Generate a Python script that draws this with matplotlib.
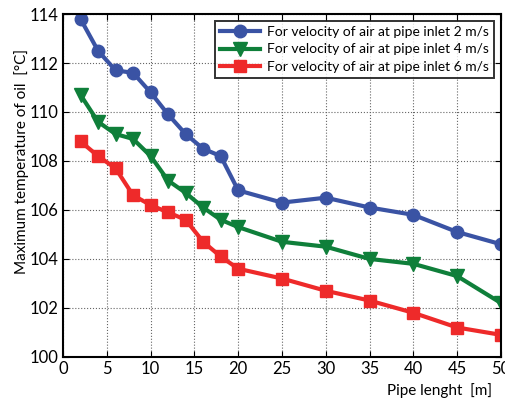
import numpy as np
import matplotlib.pyplot as plt

plt.rcParams['font.family'] = ['Lato', 'DejaVu Sans']

pipe_length = [2, 4, 6, 8, 10, 12, 14, 16, 18, 20, 25, 30, 35, 40, 45, 50]
temp_2ms = [113.8, 112.5, 111.7, 111.6, 110.8, 109.9, 109.1, 108.5, 108.2, 106.8,
            106.3, 106.5, 106.1, 105.8, 105.1, 104.6]
temp_4ms = [110.7, 109.6, 109.1, 108.9, 108.2, 107.2, 106.7, 106.1, 105.6, 105.3,
            104.7, 104.5, 104.0, 103.8, 103.3, 102.2]
temp_6ms = [108.8, 108.2, 107.7, 106.6, 106.2, 105.9, 105.6, 104.7, 104.1, 103.6,
            103.2, 102.7, 102.3, 101.8, 101.2, 100.9]
labels = ['For velocity of air at pipe inlet 2 m/s',
          'For velocity of air at pipe inlet 4 m/s',
          'For velocity of air at pipe inlet 6 m/s']

fig = plt.figure(figsize=(5.06, 4.01), dpi=100)
ax = fig.add_axes([0.1245, 0.11, 0.8655, 0.855])

ax.plot(pipe_length, temp_2ms, color='#3a53a4', lw=3, marker='o', ms=9, label=labels[0])
ax.plot(pipe_length, temp_4ms, color='#0f7f3a', lw=3, marker='v', ms=10, label=labels[1])
ax.plot(pipe_length, temp_6ms, color='#ee2a2a', lw=3, marker='s', ms=8, label=labels[2])

ax.set_xlim(0, 50)
ax.set_ylim(100, 114)
ax.set_xticks(np.arange(0, 51, 5))
ax.set_yticks(np.arange(100, 115, 2))
ax.grid(True, ls=':', color='#666666', lw=0.8)
ax.tick_params(direction='in', top=True, right=True, labelsize=12, length=4, pad=3)
for s in ax.spines.values():
    s.set_linewidth(1.5)
ax.set_ylabel('Maximum temperature of oil  [°C]', fontsize=11)
ax.yaxis.set_label_coords(-0.078, 0.57)
ax.set_xlabel('Pipe lenght  [m]', fontsize=11)
ax.xaxis.set_label_coords(0.86, -0.075)

leg = ax.legend(loc='upper right', fontsize=10, frameon=True, fancybox=False,
                borderaxespad=0.5, handlelength=2.9, handletextpad=0.5,
                labelspacing=0.4, borderpad=0.35)
leg.get_frame().set_edgecolor('black')
leg.get_frame().set_linewidth(1.4)

fig.savefig('out.png', dpi=100)
